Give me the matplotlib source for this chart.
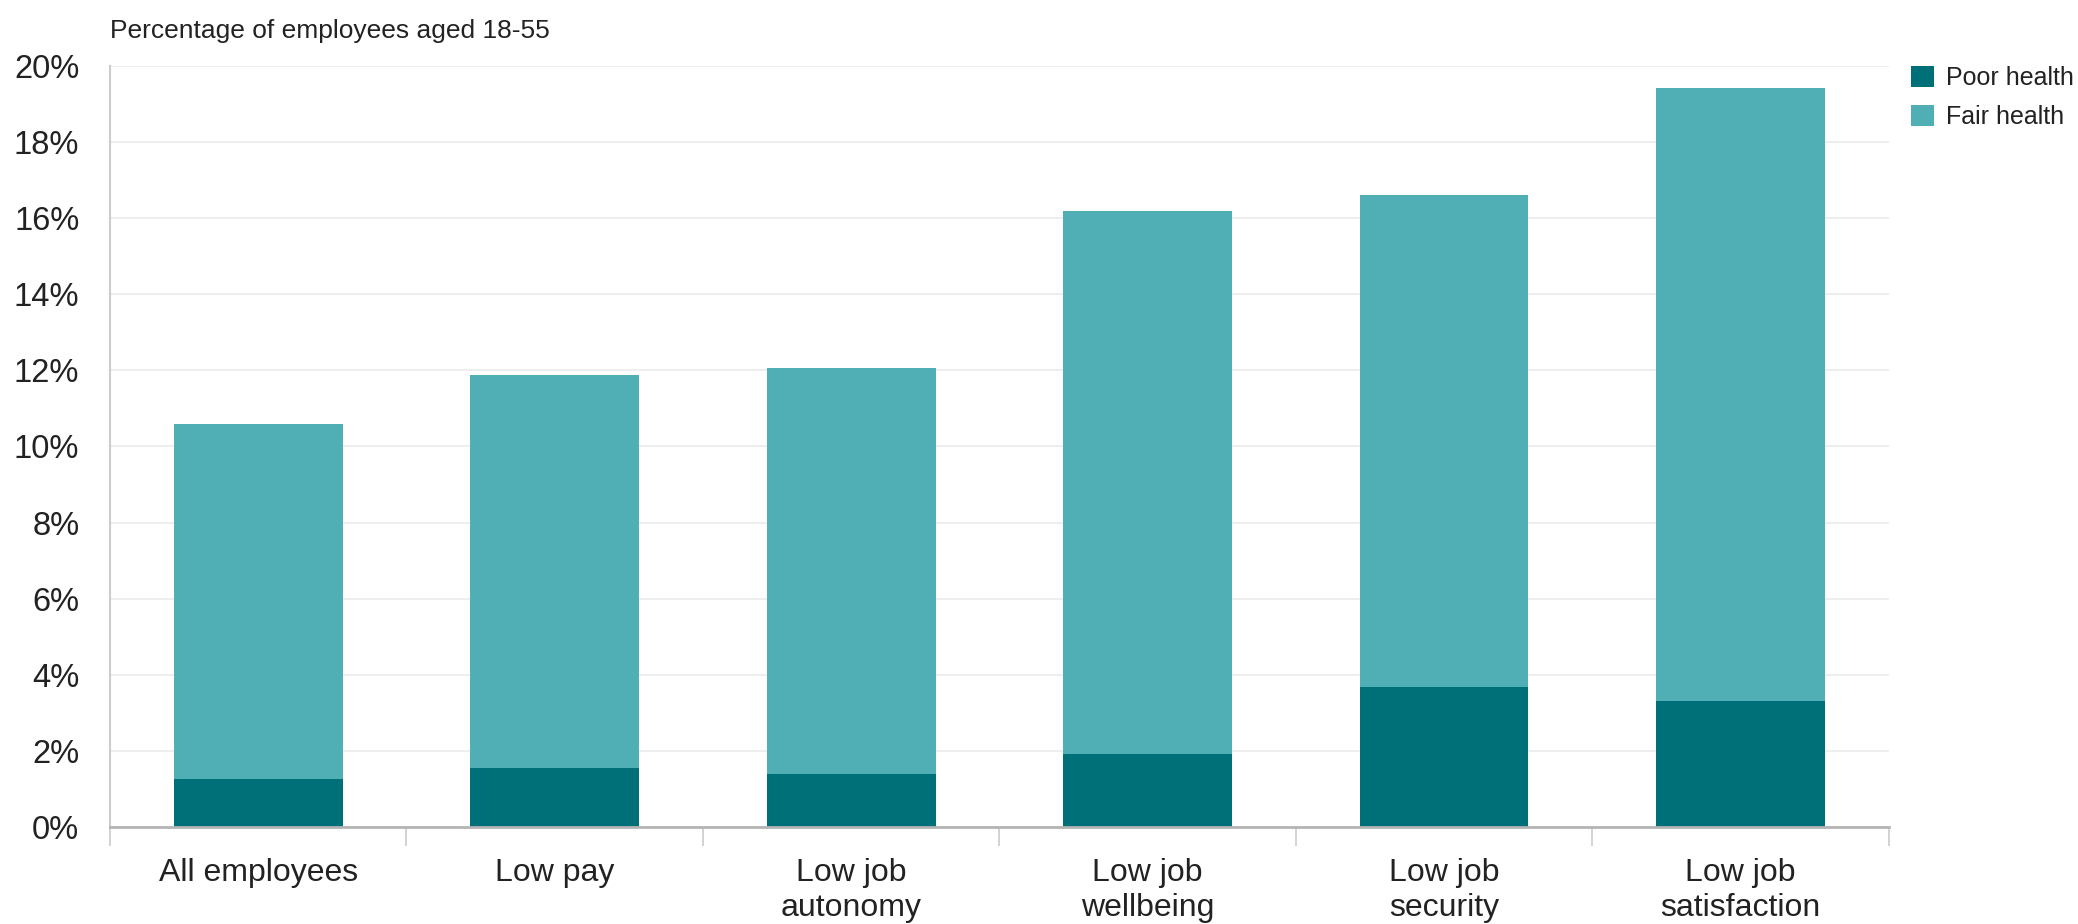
import numpy as np
import matplotlib
matplotlib.use("Agg")
import matplotlib.pyplot as plt
from matplotlib.ticker import FixedLocator

plt.rcParams['font.family'] = ['Liberation Sans', 'DejaVu Sans']

categories = ["All employees", "Low pay", "Low job\nautonomy", "Low job\nwellbeing",
              "Low job\nsecurity", "Low job\nsatisfaction"]
poor_health = [1.25, 1.55, 1.39, 1.92, 3.67, 3.31]
fair_health = [9.35, 10.33, 10.66, 14.28, 12.93, 16.11]
y_ticks = [0, 2, 4, 6, 8, 10, 12, 14, 16, 18, 20]
y_tick_labels = [f"{v}%" for v in y_ticks]

POOR_COL = "#007078"
FAIR_COL = "#4fafb4"
TEXT_COL = "#222222"

fig = plt.figure(figsize=(20.78, 9.24), dpi=100)
ax = fig.add_axes([0.0529, 0.105, 0.856, 0.8236])

x = np.arange(len(categories))
ax.bar(x, poor_health, width=0.57, color=POOR_COL, label="Poor health", zorder=3)
ax.bar(x, fair_health, width=0.57, bottom=poor_health, color=FAIR_COL,
       label="Fair health", zorder=3)

ax.set_xlim(-0.5, len(categories) - 0.5)
ax.set_ylim(0, 20)
ax.set_yticks(y_ticks)
ax.set_yticklabels(y_tick_labels)
ax.yaxis.grid(True, color="#ebebeb", linewidth=1.2, zorder=0)
ax.set_axisbelow(True)

ax.set_xticks(x)
ax.set_xticklabels(categories, linespacing=1.22)
ax.xaxis.set_minor_locator(FixedLocator(np.arange(-0.5, len(categories), 1.0)))
ax.tick_params(axis="x", which="major", length=0, pad=22, labelsize=23, labelcolor=TEXT_COL)
ax.tick_params(axis="x", which="minor", length=14, width=1.2, color="#cccccc", direction="out")
ax.tick_params(axis="y", length=0, pad=22, labelsize=23.5, labelcolor=TEXT_COL)

for side in ["top", "right"]:
    ax.spines[side].set_visible(False)
ax.spines["left"].set_color("#cccccc")
ax.spines["left"].set_linewidth(1.5)
ax.spines["bottom"].set_color("#b4b4b4")
ax.spines["bottom"].set_linewidth(2)
ax.spines["bottom"].set_zorder(4)

fig.text(110 / 2078, 1 - 38 / 924, "Percentage of employees aged 18-55",
         fontsize=19, color=TEXT_COL, ha="left", va="baseline")

fig.legend(loc="upper left", bbox_to_anchor=(1911 / 2078, 1 - 66 / 924),
           frameon=False, fontsize=18, handlelength=0.93, handleheight=0.93,
           handletextpad=0.48, labelspacing=0.6, borderpad=0, borderaxespad=0,
           labelcolor=TEXT_COL)

fig.savefig("out.png", dpi=100)
